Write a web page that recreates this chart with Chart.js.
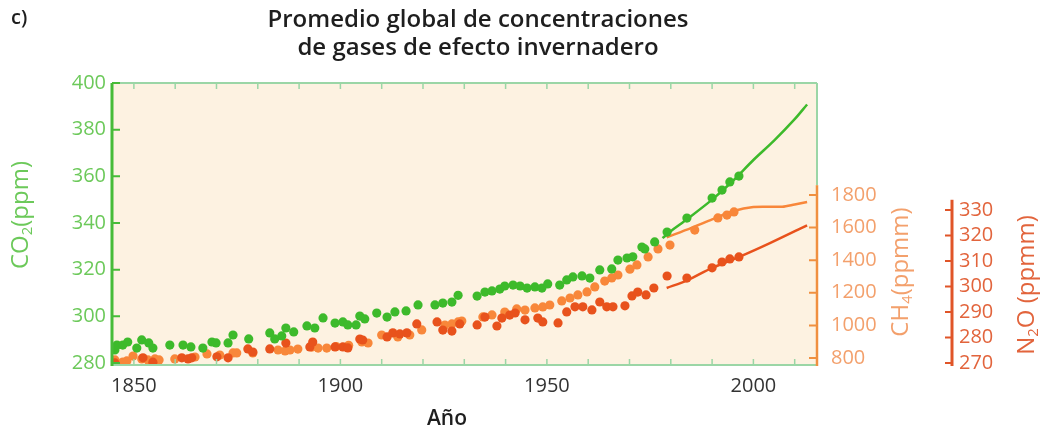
<!DOCTYPE html>
<html>
<head>
<meta charset="utf-8">
<script src="https://cdn.jsdelivr.net/npm/chart.js@4"></script>
<style>
  body { margin: 0; background: #ffffff; }
</style>
</head>
<body>
<canvas id="gasChart" width="1042" height="435"></canvas>
<script>
// Datos (años y concentraciones)
const co2Years = [1845.4, 1845.9, 1847.3, 1848.5, 1850.7, 1851.9, 1853.6, 1854.6, 1858.7, 1861.9,
  1863.8, 1866.7, 1868.9, 1869.9, 1872.8, 1874.0, 1877.8, 1882.9, 1884.1, 1885.8,
  1886.8, 1888.7, 1891.9, 1893.8, 1895.8, 1898.7, 1900.6, 1901.8, 1903.8, 1904.7,
  1905.9, 1908.8, 1911.3, 1913.2, 1915.9, 1918.8, 1922.9, 1924.8, 1927.0, 1928.5,
  1933.1, 1935.0, 1936.7, 1938.6, 1939.8, 1941.8, 1943.5, 1945.2, 1947.1, 1948.8,
  1950.2, 1953.1, 1954.8, 1956.3, 1958.5, 1960.4, 1962.8, 1965.7, 1967.2, 1969.4,
  1970.8, 1973.0, 1973.7, 1976.1, 1979.1, 1983.9, 1990.0, 1992.4, 1994.3, 1996.5];
const co2Values = [285.6, 287.7, 287.7, 289.0, 286.4, 289.9, 288.6, 286.4, 287.7, 287.7,
  286.9, 286.4, 289.0, 288.6, 288.6, 292.0, 290.3, 292.9, 290.3, 291.6,
  295.0, 293.3, 295.9, 295.0, 299.3, 297.1, 297.6, 296.3, 296.3, 300.1,
  298.9, 301.4, 299.7, 301.9, 302.3, 304.9, 304.9, 305.7, 306.1, 309.0,
  308.7, 310.4, 310.9, 311.7, 313.0, 313.4, 313.0, 312.1, 312.6, 312.1,
  313.9, 313.4, 315.6, 316.9, 317.3, 316.4, 319.9, 320.3, 324.1, 325.0,
  325.5, 329.7, 328.9, 331.9, 336.1, 342.1, 350.7, 354.1, 357.6, 360.1];
const co2LineYears = [1978, 1980, 1984, 1990, 1995, 2000, 2005, 2010, 2013];
const co2LineValues = [333.5, 336.5, 341.7, 350.0, 358.0, 367.0, 375.3, 384.5, 390.8];

const ch4Years = [1845.4, 1847.3, 1848.3, 1849.8, 1851.9, 1853.4, 1855.1, 1856.1, 1859.9, 1864.8,
  1867.7, 1870.8, 1874.0, 1874.9, 1878.8, 1884.9, 1886.6, 1887.8, 1889.7, 1893.1,
  1894.6, 1896.7, 1899.0, 1902.0, 1905.2, 1906.7, 1910.0, 1913.9, 1916.8, 1919.7,
  1925.3, 1927.0, 1928.5, 1929.4, 1934.5, 1936.7, 1939.8, 1942.7, 1944.7, 1947.1,
  1949.0, 1950.7, 1953.6, 1955.6, 1957.5, 1959.7, 1961.6, 1964.0, 1965.7, 1967.2,
  1970.1, 1971.8, 1974.5, 1976.9, 1979.8, 1985.8, 1991.4, 1993.6, 1995.3];
const ch4Values = [788, 775, 782, 812, 794, 788, 794, 788, 794, 806,
  825, 818, 831, 831, 831, 849, 843, 849, 855, 867,
  861, 861, 870, 878, 898, 892, 941, 929, 941, 972,
  1002, 1009, 1021, 1027, 1052, 1064, 1082, 1101, 1094, 1107,
  1113, 1125, 1150, 1168, 1187, 1205, 1236, 1272, 1291, 1309,
  1345, 1371, 1420, 1469, 1493, 1585, 1659, 1677, 1696];
const ch4LineYears = [1979, 1985, 1990, 1995, 2000, 2007, 2010, 2013];
const ch4LineValues = [1540, 1598, 1650, 1700, 1726, 1728, 1742, 1757];

const n2oYears = [1845.4, 1852.2, 1854.6, 1861.6, 1863.1, 1864.0, 1870.1, 1872.8, 1877.6, 1878.8,
  1882.9, 1886.8, 1892.6, 1893.3, 1898.7, 1900.6, 1901.8, 1904.7, 1905.4, 1911.3,
  1912.7, 1914.4, 1916.1, 1918.5, 1923.4, 1924.8, 1927.0, 1928.9, 1933.1, 1935.0,
  1937.9, 1939.1, 1941.0, 1942.3, 1944.7, 1947.8, 1949.0, 1952.7, 1954.8, 1956.8,
  1958.7, 1960.9, 1962.8, 1964.5, 1966.0, 1968.9, 1970.6, 1972.0, 1974.0, 1975.9,
  1979.1, 1983.9, 1990.0, 1992.4, 1994.3, 1996.5];
const n2oValues = [270.0, 272.0, 270.3, 272.0, 271.6, 272.0, 272.4, 272.0, 275.5, 274.3,
  275.5, 277.8, 276.3, 278.2, 276.3, 276.3, 275.9, 279.4, 279.0, 280.2,
  281.8, 281.4, 281.8, 285.3, 286.1, 282.9, 282.5, 285.3, 284.9, 288.0,
  284.5, 287.6, 288.8, 289.6, 286.9, 287.6, 286.1, 285.7, 290.0, 292.0,
  292.0, 290.8, 293.9, 292.0, 292.0, 292.4, 296.3, 297.8, 296.7, 299.4,
  304.1, 303.3, 307.3, 309.6, 310.8, 311.6];
const n2oLineYears = [1979, 1984, 1990, 1997, 2004, 2013];
const n2oLineValues = [299.4, 302.4, 307.3, 311.9, 317.0, 324.0];

const xLabelYears = [1850, 1900, 1950, 2000];

// Colores
const GREEN = "#3dba2b";
const GREEN_AXIS = "#47bb38";
const GREEN_TEXT = "#6cc95a";
const ORANGE = "#f8873a";
const ORANGE_AXIS = "#f09040";
const ORANGE_TEXT = "#f3a06c";
const RED = "#e8521c";
const RED_AXIS = "#e05528";
const RED_TEXT = "#e2643c";
const FRAME = "#9bd6a6";
const FONT = "'Open Sans', sans-serif";

function zip(xs, ys) {
  return xs.map((x, i) => ({ x: x, y: ys[i] }));
}

// Texto con subíndice (CO2, CH4, N2O)
function richText(ctx, parts, x, y, size, color, angle) {
  ctx.save();
  ctx.translate(x, y);
  ctx.rotate(angle);
  ctx.fillStyle = color;
  ctx.textBaseline = "middle";
  ctx.textAlign = "left";
  let total = 0;
  parts.forEach((p) => {
    ctx.font = (p[1] ? size * 0.62 : size) + "px " + FONT;
    total += ctx.measureText(p[0]).width;
  });
  let cx = -total / 2;
  parts.forEach((p) => {
    const s = p[1] ? size * 0.62 : size;
    ctx.font = s + "px " + FONT;
    ctx.fillText(p[0], cx, p[1] ? size * 0.3 : 0);
    cx += ctx.measureText(p[0]).width;
  });
  ctx.restore();
}

const framePlugin = {
  id: "frame",
  beforeDraw(chart) {
    const a = chart.chartArea;
    const ctx = chart.ctx;
    ctx.save();
    ctx.fillStyle = "#fdf2e1";
    ctx.fillRect(a.left, a.top, a.right - a.left, a.bottom - a.top);
    ctx.restore();
  },
  afterDatasetsDraw(chart) {
    const a = chart.chartArea;
    const ctx = chart.ctx;
    const sx = chart.scales.x;
    const sCo2 = chart.scales.yCo2;
    const sCh4 = chart.scales.yCh4;
    const sN2o = chart.scales.yN2o;
    ctx.save();

    // marco superior / inferior y ticks de los años
    ctx.strokeStyle = FRAME;
    ctx.lineWidth = 2;
    ctx.beginPath();
    ctx.moveTo(a.left, a.top); ctx.lineTo(a.right, a.top);
    ctx.moveTo(a.left, a.bottom); ctx.lineTo(a.right, a.bottom);
    const ch4Top = sCh4.getPixelForValue(1860);
    ctx.moveTo(a.right, a.top); ctx.lineTo(a.right, ch4Top);
    ctx.stroke();
    ctx.lineWidth = 1.5;
    ctx.beginPath();
    sx.ticks.forEach((t) => {
      const px = sx.getPixelForValue(t.value);
      ctx.moveTo(px, a.bottom); ctx.lineTo(px, a.bottom - 6);
      ctx.moveTo(px, a.top); ctx.lineTo(px, a.top + 6);
    });
    ctx.stroke();

    // eje CO2
    ctx.strokeStyle = GREEN_AXIS;
    ctx.lineWidth = 3;
    ctx.beginPath();
    ctx.moveTo(a.left, a.top); ctx.lineTo(a.left, a.bottom + 1);
    ctx.stroke();
    ctx.lineWidth = 2;
    ctx.beginPath();
    sCo2.ticks.forEach((t) => {
      const py = sCo2.getPixelForValue(t.value);
      ctx.moveTo(a.left, py); ctx.lineTo(a.left + 8, py);
    });
    ctx.stroke();

    // eje CH4
    ctx.strokeStyle = ORANGE_AXIS;
    ctx.lineWidth = 2.5;
    ctx.beginPath();
    ctx.moveTo(a.right, ch4Top); ctx.lineTo(a.right, a.bottom + 1);
    ctx.stroke();
    ctx.lineWidth = 2;
    ctx.beginPath();
    sCh4.ticks.forEach((t) => {
      const py = sCh4.getPixelForValue(t.value);
      ctx.moveTo(a.right, py); ctx.lineTo(a.right - 8, py);
    });
    ctx.stroke();

    // eje N2O
    const nx = sN2o.left + 10;
    ctx.strokeStyle = RED_AXIS;
    ctx.lineWidth = 3;
    ctx.beginPath();
    ctx.moveTo(nx, sN2o.getPixelForValue(334)); ctx.lineTo(nx, a.bottom + 1);
    ctx.stroke();
    ctx.lineWidth = 2;
    ctx.beginPath();
    sN2o.ticks.forEach((t) => {
      const py = sN2o.getPixelForValue(t.value);
      ctx.moveTo(nx, py); ctx.lineTo(nx - 7, py);
    });
    ctx.stroke();
    ctx.restore();
  },
  afterDraw(chart) {
    const ctx = chart.ctx;
    ctx.save();
    ctx.fillStyle = "#1e1e1e";
    ctx.textAlign = "center";
    ctx.textBaseline = "middle";
    ctx.font = "600 24px " + FONT;
    ctx.fillText("Promedio global de concentraciones", 478, 20);
    ctx.fillText("de gases de efecto invernadero", 478, 48);
    ctx.textAlign = "left";
    ctx.font = "600 20px " + FONT;
    ctx.fillText("c)", 11, 18);
    ctx.textAlign = "center";
    ctx.font = "600 21px " + FONT;
    ctx.fillText("Año", 447, 419);
    ctx.restore();

    richText(ctx, [["CO", false], ["2", true], ["(ppm)", false]], 21, 215, 24, GREEN_TEXT, -Math.PI / 2);
    richText(ctx, [["CH", false], ["4", true], ["(ppmm)", false]], 901, 272, 24, ORANGE_TEXT, -Math.PI / 2);
    richText(ctx, [["N", false], ["2", true], ["O (ppmm)", false]], 1027, 285, 24, RED_TEXT, -Math.PI / 2);
  },
};

function axisBase(color, padding, step) {
  return {
    grid: { display: false, drawTicks: false },
    border: { display: false },
    ticks: {
      color: color,
      padding: padding,
      stepSize: step,
      includeBounds: false,
      autoSkip: false,
      maxRotation: 0,
      font: { family: FONT, size: 20 },
      callback: (v) => String(v),
    },
  };
}

const ctx = document.getElementById("gasChart").getContext("2d");
const xAxis = axisBase("#333333", 9, 10);
xAxis.ticks.callback = (v) => (xLabelYears.includes(v) ? String(v) : "");

const gasChart = new Chart(ctx, {
  type: "scatter",
  data: {
    datasets: [
      { label: "CO2", data: zip(co2Years, co2Values), yAxisID: "yCo2",
        backgroundColor: GREEN, borderColor: GREEN, pointRadius: 4.6, borderWidth: 0 },
      { label: "CO2 línea", data: zip(co2LineYears, co2LineValues), yAxisID: "yCo2", type: "line",
        borderColor: GREEN, borderWidth: 2.5, pointRadius: 0, tension: 0.3, fill: false },
      { label: "N2O", data: zip(n2oYears, n2oValues), yAxisID: "yN2o",
        backgroundColor: RED, borderColor: RED, pointRadius: 4.6, borderWidth: 0 },
      { label: "N2O línea", data: zip(n2oLineYears, n2oLineValues), yAxisID: "yN2o", type: "line",
        borderColor: RED, borderWidth: 2.5, pointRadius: 0, tension: 0.3, fill: false },
      { label: "CH4", data: zip(ch4Years, ch4Values), yAxisID: "yCh4",
        backgroundColor: ORANGE, borderColor: ORANGE, pointRadius: 4.6, borderWidth: 0 },
      { label: "CH4 línea", data: zip(ch4LineYears, ch4LineValues), yAxisID: "yCh4", type: "line",
        borderColor: ORANGE, borderWidth: 2.5, pointRadius: 0, tension: 0.3, fill: false },
    ],
  },
  options: {
    responsive: false,
    animation: false,
    layout: { padding: { top: 83, left: 0, right: 0, bottom: 0 } },
    plugins: { legend: { display: false }, tooltip: { enabled: false } },
    scales: {
      x: Object.assign(xAxis, {
        type: "linear",
        position: "bottom",
        min: 1844.7,
        max: 2015.4,
        afterFit: (s) => { s.height = 70; },
      }),
      yCo2: Object.assign(axisBase(GREEN_TEXT, 6, 20), {
        position: "left",
        min: 279.14,
        max: 400,
        afterFit: (s) => { s.width = 112; },
      }),
      yCh4: Object.assign(axisBase(ORANGE_TEXT, 14, 200), {
        position: "right",
        min: 757,
        max: 2487,
        afterFit: (s) => { s.width = 125; },
        afterBuildTicks: (s) => {
          s.ticks = s.ticks.filter((t) => t.value <= 1800);
        },
      }),
      yN2o: Object.assign(axisBase(RED_TEXT, 17, 10), {
        position: "right",
        min: 269.2,
        max: 379.8,
        afterFit: (s) => { s.width = 100; },
        afterBuildTicks: (s) => {
          s.ticks = s.ticks.filter((t) => t.value <= 330);
        },
      }),
    },
  },
  plugins: [framePlugin],
});
</script>
</body>
</html>
